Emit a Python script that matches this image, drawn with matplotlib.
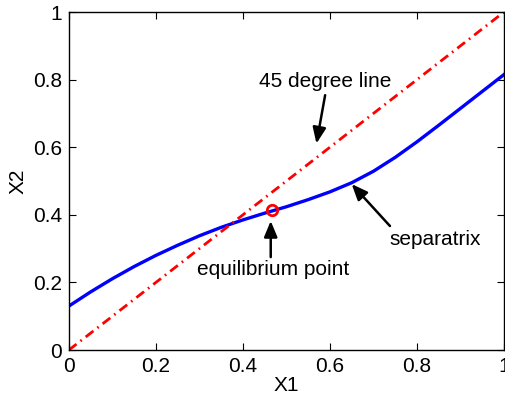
import matplotlib
matplotlib.use("Agg")
import matplotlib.pyplot as plt
import numpy as np

# separatrix
sep_x = [0.0, 0.05, 0.1, 0.15, 0.2, 0.25, 0.3, 0.35, 0.4, 0.45, 0.5,
         0.55, 0.6, 0.65, 0.7, 0.75, 0.8, 0.85, 0.9, 0.95, 1.0]
sep_y = [0.130, 0.172, 0.211, 0.247, 0.280, 0.310, 0.338, 0.363, 0.385, 0.405, 0.424,
         0.445, 0.468, 0.495, 0.529, 0.570, 0.616, 0.665, 0.715, 0.765, 0.815]
diag_x = [0.0, 1.0]
diag_y = [0.0, 1.0]
eq_x, eq_y = 0.467, 0.414
ticks = [0, 0.2, 0.4, 0.6, 0.8, 1]
tick_labels = ["0", "0.2", "0.4", "0.6", "0.8", "1"]

plt.rcParams["font.family"] = ["Liberation Sans", "DejaVu Sans"]
plt.rcParams["font.size"] = 15

fig = plt.figure(figsize=(5.06, 4.01), dpi=100)
ax = fig.add_axes([0.136, 0.127, 0.860, 0.843])

ax.plot(sep_x, sep_y, color="blue", lw=2.4, solid_joinstyle="round")
ax.plot(diag_x, diag_y, color="red", lw=2, linestyle=(0, (3.5, 1.8, 0.6, 1.8)))
ax.plot([eq_x], [eq_y], "o", mfc="none", mec="red", mew=2, ms=7.5)

arrow = dict(arrowstyle="-|>,head_length=0.6,head_width=0.25", color="black",
             lw=1.8, mutation_scale=16, shrinkA=0, shrinkB=0)
ax.annotate("", xy=(0.569, 0.611), xytext=(0.589, 0.754), arrowprops=arrow)
ax.text(0.590, 0.794, "45 degree line", ha="center", va="center")
ax.annotate("", xy=(0.650, 0.491), xytext=(0.738, 0.367), arrowprops=arrow)
ax.text(0.843, 0.327, "separatrix", ha="center", va="center")
ax.annotate("", xy=(0.464, 0.382), xytext=(0.464, 0.275), arrowprops=arrow)
ax.text(0.469, 0.237, "equilibrium point", ha="center", va="center")

ax.set_xlim(0, 1)
ax.set_ylim(0, 1)
ax.set_xticks(ticks)
ax.set_xticklabels(tick_labels)
ax.set_yticks(ticks)
ax.set_yticklabels(tick_labels)
ax.tick_params(direction="in", top=True, right=True, length=5, width=0.8,
               labelsize=15, pad=5)
for s in ax.spines.values():
    s.set_linewidth(1)
ax.set_xlabel("X1", labelpad=0)
ax.set_ylabel("X2", labelpad=4)

fig.savefig("out.png", dpi=100)
